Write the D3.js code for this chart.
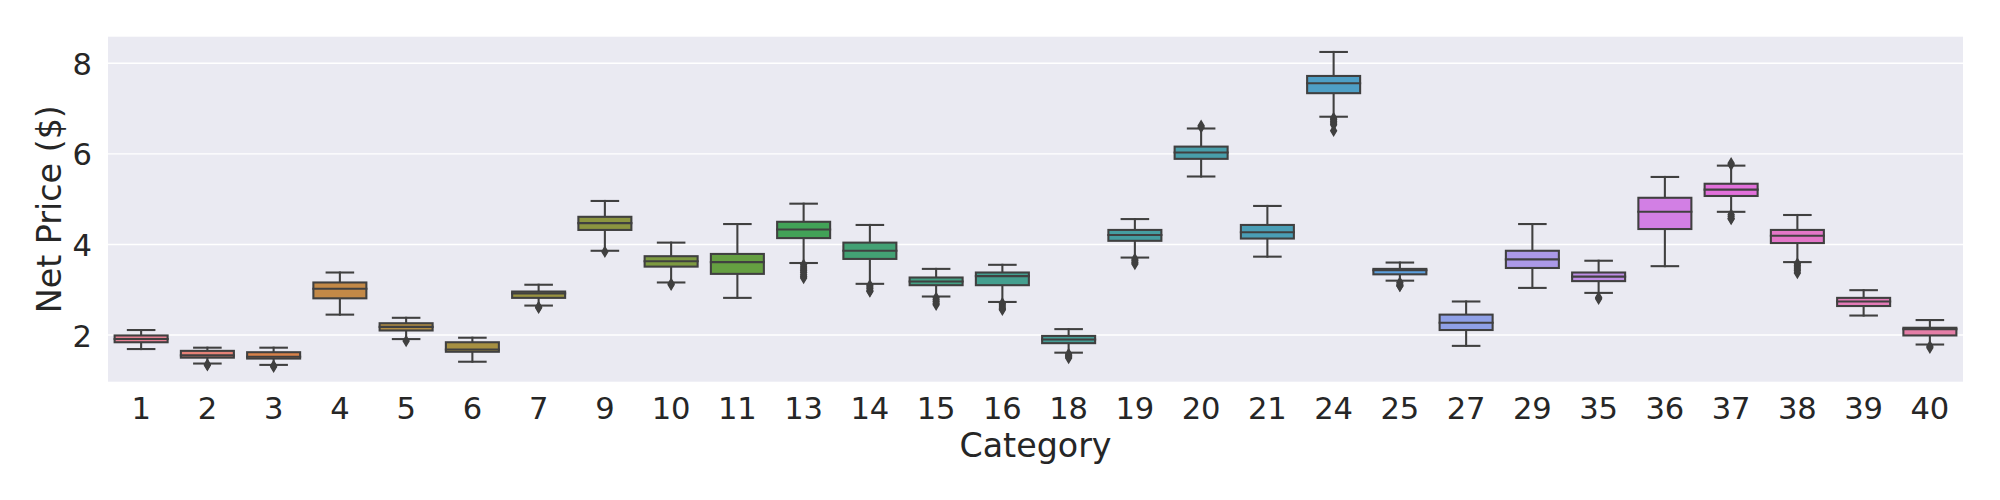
<!DOCTYPE html>
<html>
<head>
<meta charset="utf-8">
<script src="https://cdn.jsdelivr.net/npm/d3@7"></script>
<style>
  html, body { margin: 0; padding: 0; background: #ffffff; }
  svg { display: block; }
  text { font-family: "DejaVu Sans", sans-serif; fill: #262626; }
</style>
</head>
<body>
<svg id="chart" width="2000" height="500"></svg>
<script>
// ---------------- data ----------------
const categories = ["1","2","3","4","5","6","7","9","10","11","13","14","15","16","18","19","20","21","24","25","27","29","35","36","37","38","39","40"];
const whiskerLow  = [1.69,1.37,1.34,2.45,1.91,1.41,2.65,3.86,3.16,2.82,3.59,3.13,2.85,2.73,1.61,3.71,5.50,3.73,6.82,3.20,1.76,3.04,2.93,3.52,4.72,3.61,2.43,1.79];
const q1Values    = [1.84,1.50,1.48,2.81,2.10,1.63,2.82,4.32,3.51,3.35,4.14,3.68,3.10,3.10,1.82,4.08,5.89,4.13,7.34,3.34,2.11,3.48,3.19,4.34,5.07,4.03,2.64,1.99];
const medianValues= [1.91,1.55,1.52,3.02,2.18,1.68,2.92,4.47,3.63,3.61,4.33,3.86,3.18,3.30,1.90,4.21,6.03,4.27,7.56,3.43,2.27,3.67,3.29,4.72,5.21,4.19,2.74,2.13];
const q3Values    = [1.99,1.65,1.62,3.16,2.26,1.84,2.96,4.61,3.74,3.79,4.50,4.04,3.27,3.38,1.98,4.32,6.16,4.43,7.72,3.46,2.45,3.86,3.38,5.03,5.34,4.32,2.82,2.16];
const whiskerHigh = [2.11,1.72,1.72,3.38,2.38,1.94,3.11,4.96,4.04,4.45,4.90,4.43,3.46,3.55,2.13,4.56,6.56,4.85,8.25,3.60,2.74,4.45,3.64,5.49,5.74,4.65,2.99,2.33];
const outliers = [
  [],
  [1.35,1.33],
  [1.32,1.30],
  [],
  [1.87],
  [],
  [2.62,2.60],
  [3.84],
  [3.13,3.11],
  [],
  [3.55,3.50,3.46,3.42,3.38,3.33,3.29,3.26],
  [3.10,3.06,3.02,2.98,2.96],
  [2.82,2.78,2.74,2.70,2.67],
  [2.70,2.66,2.62,2.58,2.56],
  [1.58,1.55,1.52,1.49],
  [3.68,3.64,3.60,3.57],
  [6.59,6.62],
  [],
  [6.79,6.76,6.72,6.68,6.64,6.51],
  [3.16,3.12,3.09,3.08],
  [],
  [],
  [2.83,2.80],
  [],
  [5.76,5.79,4.66,4.62,4.58,4.56],
  [3.58,3.54,3.50,3.46,3.42,3.37],
  [],
  [1.75,1.72]
];
const yTicks = [2,4,6,8];
const xTitle = "Category";
const yTitle = "Net Price ($)";

// ---------------- husl palette (seaborn style) ----------------
const Mx = [[3.2406,-1.5372,-0.4986],[-0.9689,1.8758,0.0415],[0.0557,-0.2040,1.0570]];
const refU = 0.19784, refV = 0.46834, refY = 1.0, labE = 0.008856, labK = 903.3;
function maxChroma(L, H) {
  const hr = H * Math.PI / 180, sinH = Math.sin(hr), cosH = Math.cos(hr);
  const sub1 = Math.pow(L + 16, 3) / 1560896;
  const sub2 = sub1 > labE ? sub1 : L / labK;
  let result = Infinity;
  for (const [m1, m2, m3] of Mx) {
    const top = (0.99915 * m1 + 1.05122 * m2 + 1.14460 * m3) * sub2;
    const rb = 0.86330 * m3 - 0.17266 * m2;
    const lb = 0.12949 * m3 - 0.38848 * m1;
    const bottom = (rb * sinH + lb * cosH) * sub2;
    for (const t of [0, 1]) {
      const C = L * (top - 1.05122 * t) / (bottom + 0.17266 * sinH * t);
      if (C > 0 && C < result) result = C;
    }
  }
  return result;
}
function fInv(t) { const t3 = Math.pow(t, 3); return t3 > labE ? t3 : (116 * t - 16) / labK; }
function fromLinear(c) { return c <= 0.0031308 ? 12.92 * c : 1.055 * Math.pow(c, 1 / 2.4) - 0.055; }
function huslToRgb(H, S, L) {
  const C = maxChroma(L, H) / 100 * S;
  const hr = H * Math.PI / 180;
  const U = Math.cos(hr) * C, V = Math.sin(hr) * C;
  const varY = fInv((L + 16) / 116);
  const varU = U / (13 * L) + refU, varV = V / (13 * L) + refV;
  const Y = varY * refY;
  const X = 0 - (9 * Y * varU) / ((varU - 4) * varV - varU * varV);
  const Z = (9 * Y - 15 * varV * Y - varV * X) / (3 * varV);
  return Mx.map(r => Math.min(1, Math.max(0, fromLinear(r[0] * X + r[1] * Y + r[2] * Z))));
}
function huslPalette(n) {
  const out = [];
  for (let i = 0; i < n; i++) {
    const h = ((i / n + 0.01) % 1) * 359;
    out.push(huslToRgb(h, 0.9 * 99, 0.65 * 99));
  }
  return out;
}
const baseRgb = huslPalette(categories.length);
const boxColors = baseRgb.map(c => {
  const hsl = d3.hsl(d3.rgb(c[0] * 255, c[1] * 255, c[2] * 255));
  hsl.s = hsl.s * 0.75;
  return hsl;
});
const minLight = d3.min(boxColors, c => c.l);
const lum = Math.round(minLight * 0.6 * 255);
const gray = d3.rgb(lum, lum, lum).formatHex();

// ---------------- layout ----------------
const plot = { left: 108, right: 1963, top: 36.7, bottom: 381.7 };
const svg = d3.select("#chart");

svg.append("rect").attr("x", 0).attr("y", 0).attr("width", 2000).attr("height", 500).attr("fill", "#ffffff");
svg.append("rect")
  .attr("x", plot.left).attr("y", plot.top)
  .attr("width", plot.right - plot.left).attr("height", plot.bottom - plot.top)
  .attr("fill", "#EAEAF2");

const x = d3.scaleBand().domain(categories).range([plot.left, plot.right]).padding(0);
const y = d3.scaleLinear().domain([0.969, 8.587]).range([plot.bottom, plot.top]);

// gridlines
svg.append("g").selectAll("line").data(yTicks).join("line")
  .attr("x1", plot.left).attr("x2", plot.right)
  .attr("y1", d => y(d)).attr("y2", d => y(d))
  .attr("stroke", "#ffffff").attr("stroke-width", 1.4);

// y axis
const yAxis = d3.axisLeft(y).tickValues(yTicks).tickSize(0).tickPadding(16).tickFormat(d3.format("d"));
const gy = svg.append("g").attr("transform", `translate(${plot.left},0)`).call(yAxis);
gy.select(".domain").remove();
gy.selectAll("text").attr("font-size", "30.6px").attr("fill", "#262626")
  .attr("font-family", "DejaVu Sans, sans-serif").attr("dy", "0.36em");

// x axis
const xAxis = d3.axisBottom(x).tickSize(0).tickPadding(0);
const gx = svg.append("g").attr("transform", `translate(0,${plot.bottom})`).call(xAxis);
gx.select(".domain").remove();
gx.selectAll("text").attr("font-size", "30.6px").attr("fill", "#262626")
  .attr("font-family", "DejaVu Sans, sans-serif").attr("dy", null).attr("y", 419 - plot.bottom);

// titles
svg.append("text").attr("x", (plot.left + plot.right) / 2).attr("y", 457)
  .attr("text-anchor", "middle").attr("font-size", "33.3px").text(xTitle);
svg.append("text").attr("transform", `translate(61,${(plot.top + plot.bottom) / 2}) rotate(-90)`)
  .attr("text-anchor", "middle").attr("font-size", "33.3px").text(yTitle);

// boxes
const bw = x.bandwidth() * 0.8;
const capW = bw / 2;
const lw = 2.08;
const boxes = svg.append("g").selectAll("g").data(categories).join("g")
  .attr("transform", d => `translate(${x(d) + x.bandwidth() / 2},0)`);

boxes.each(function(cat, i) {
  const g = d3.select(this);
  const lineAttrs = sel => sel.attr("stroke", gray).attr("stroke-width", lw).attr("stroke-linecap", "square");
  // whiskers
  g.append("line").attr("x1", 0).attr("x2", 0).attr("y1", y(q1Values[i])).attr("y2", y(whiskerLow[i])).call(lineAttrs);
  g.append("line").attr("x1", 0).attr("x2", 0).attr("y1", y(q3Values[i])).attr("y2", y(whiskerHigh[i])).call(lineAttrs);
  // caps
  g.append("line").attr("x1", -capW / 2).attr("x2", capW / 2).attr("y1", y(whiskerLow[i])).attr("y2", y(whiskerLow[i])).call(lineAttrs);
  g.append("line").attr("x1", -capW / 2).attr("x2", capW / 2).attr("y1", y(whiskerHigh[i])).attr("y2", y(whiskerHigh[i])).call(lineAttrs);
  // box
  g.append("rect")
    .attr("x", -bw / 2).attr("width", bw)
    .attr("y", y(q3Values[i])).attr("height", y(q1Values[i]) - y(q3Values[i]))
    .attr("fill", boxColors[i].formatHex())
    .attr("stroke", gray).attr("stroke-width", lw).attr("stroke-linejoin", "miter");
  // median
  g.append("line").attr("x1", -bw / 2).attr("x2", bw / 2).attr("y1", y(medianValues[i])).attr("y2", y(medianValues[i])).call(lineAttrs);
  // fliers (thin diamonds)
  const hh = 4.9, hw = 2.94;
  g.selectAll("path.flier").data(outliers[i]).join("path").attr("class", "flier")
    .attr("d", v => `M0,${y(v) - hh}L${hw},${y(v)}L0,${y(v) + hh}L${-hw},${y(v)}Z`)
    .attr("fill", gray).attr("stroke", gray).attr("stroke-width", 1.39).attr("stroke-linejoin", "miter");
});
</script>
</body>
</html>
